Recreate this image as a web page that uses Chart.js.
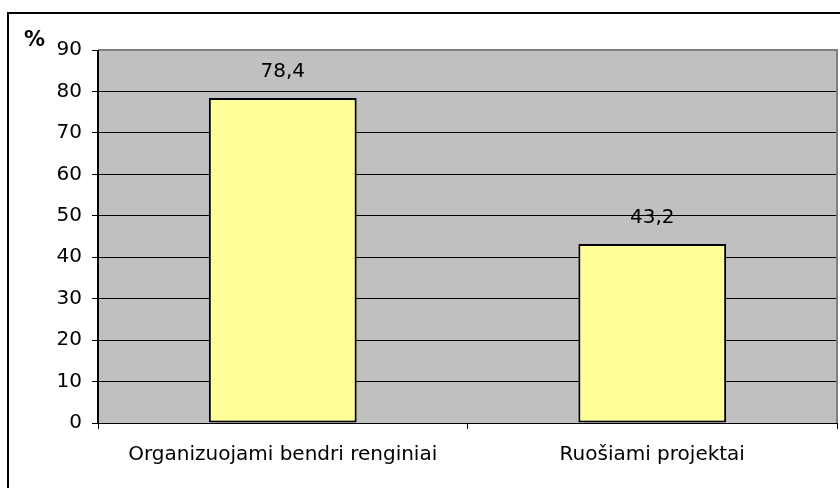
<!DOCTYPE html>
<html>
<head>
<meta charset="utf-8">
<script src="https://cdn.jsdelivr.net/npm/chart.js@4/dist/chart.umd.min.js"></script>
<style>
html,body{margin:0;padding:0;background:#fff;}
canvas{display:block;}
</style>
</head>
<body>
<canvas id="c" width="840" height="488"></canvas>
<script>
const categories = ['Organizuojami bendri renginiai', 'Ruošiami projektai'];
const values = [78.4, 43.2];
const valueLabels = ['78,4', '43,2'];
const yMin = 0, yMax = 90, yStep = 10;
const unitLabel = '%';

const FONT = '"DejaVu Sans", sans-serif';

const decor = {
  id: 'decor',
  beforeDraw(chart) {
    const {ctx, chartArea: a} = chart;
    ctx.save();
    ctx.fillStyle = '#fff';
    ctx.fillRect(0, 0, chart.width, chart.height);
    ctx.fillStyle = '#C0C0C0';
    ctx.fillRect(a.left, a.top, a.right - a.left, a.bottom - a.top);
    ctx.restore();
  },
  afterDraw(chart) {
    const {ctx, chartArea: a} = chart;
    ctx.save();
    // plot area border (top/right)
    ctx.fillStyle = '#808080';
    ctx.fillRect(a.left, a.top - 1, a.right - a.left + 1, 2);
    ctx.fillRect(a.right - 1, a.top - 1, 2, a.bottom - a.top + 1);
    // left axis line, a bit heavier
    ctx.fillStyle = '#000';
    ctx.fillRect(a.left - 1, a.top, 2, a.bottom - a.top + 1);
    // outer chart border (clipped at right/bottom)
    ctx.fillRect(7, 12, 2, chart.height);
    ctx.fillRect(7, 12, chart.width, 2);
    // unit label
    ctx.font = 'bold 21px ' + FONT;
    ctx.textAlign = 'left';
    ctx.textBaseline = 'alphabetic';
    ctx.fillText(unitLabel, 24, 46);
    // value labels
    ctx.font = '20px ' + FONT;
    ctx.textAlign = 'center';
    const meta = chart.getDatasetMeta(0);
    meta.data.forEach((bar, i) => {
      ctx.fillText(valueLabels[i], bar.x, bar.y - 21);
    });
    ctx.restore();
  }
};

new Chart(document.getElementById('c'), {
  type: 'bar',
  data: {
    labels: categories,
    datasets: [{
      data: values,
      backgroundColor: '#FFFF99',
      borderColor: '#000',
      borderWidth: 2,
      borderSkipped: false,
      barPercentage: 0.4,
      categoryPercentage: 1.0
    }]
  },
  options: {
    responsive: false,
    animation: false,
    devicePixelRatio: 1,
    layout: {padding: {top: 50, right: 3, left: 0, bottom: 0}},
    plugins: {legend: {display: false}, tooltip: {enabled: false}},
    scales: {
      x: {
        offset: true,
        grid: {offset: true, drawOnChartArea: false, color: '#000', tickLength: 6, lineWidth: 1},
        border: {display: true, color: '#000', width: 1},
        ticks: {color: '#000', font: {family: FONT, size: 20}, padding: 14, maxRotation: 0, autoSkip: false},
        afterFit(s) { s.height = 65; }
      },
      y: {
        min: yMin, max: yMax,
        grid: {
          color: (c) => (c.tick && c.tick.value === yMax) ? '#808080' : '#000',
          tickColor: '#000',
          tickLength: 6, lineWidth: 1
        },
        border: {display: true, color: '#000', width: 1},
        ticks: {stepSize: yStep, color: '#000', font: {family: FONT, size: 20}, padding: 10},
        afterFit(s) { s.width = 98; }
      }
    }
  },
  plugins: [decor]
});
</script>
</body>
</html>
